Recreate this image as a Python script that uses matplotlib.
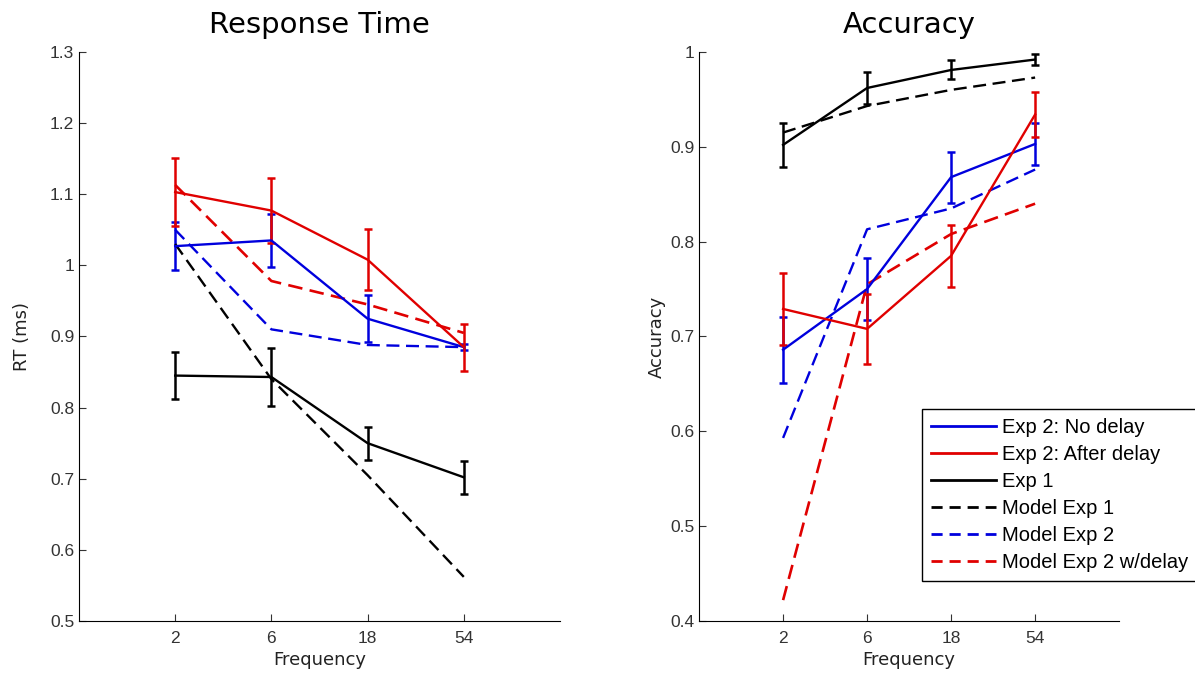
import matplotlib
matplotlib.use("Agg")
import matplotlib.pyplot as plt
from matplotlib.lines import Line2D

plt.rcParams["font.family"] = ["Liberation Sans", "DejaVu Sans"]

freq_labels = ["2", "6", "18", "54"]
xpos = [1, 2, 3, 4]

# response time (left panel)
rt_nodelay = [1.027, 1.035, 0.925, 0.885]
rt_nodelay_err = [0.034, 0.037, 0.033, 0.004]
rt_after = [1.103, 1.077, 1.008, 0.885]
rt_after_err = [0.048, 0.046, 0.043, 0.033]
rt_exp1 = [0.845, 0.843, 0.750, 0.702]
rt_exp1_err = [0.033, 0.041, 0.023, 0.023]
rt_model1 = [1.030, 0.840, 0.705, 0.562]
rt_model2 = [1.050, 0.910, 0.888, 0.885]
rt_model2d = [1.113, 0.978, 0.945, 0.905]

# accuracy (right panel)
acc_nodelay = [0.686, 0.750, 0.868, 0.903]
acc_nodelay_err = [0.035, 0.033, 0.027, 0.022]
acc_after = [0.729, 0.708, 0.785, 0.934]
acc_after_err = [0.038, 0.037, 0.033, 0.024]
acc_exp1 = [0.902, 0.962, 0.981, 0.992]
acc_exp1_err = [0.023, 0.017, 0.010, 0.006]
acc_model1 = [0.915, 0.943, 0.960, 0.973]
acc_model2 = [0.593, 0.813, 0.835, 0.876]
acc_model2d = [0.422, 0.755, 0.808, 0.840]

legend_labels = ["Exp 2: No delay", "Exp 2: After delay", "Exp 1",
                 "Model Exp 1", "Model Exp 2", "Model Exp 2 w/delay"]

BLUE = "#0000dd"
RED = "#e00000"
BLACK = "#000000"
DASH = (5.5, 2.8)
WIDE = ["DejaVu Sans"]

fig = plt.figure(figsize=(11.95, 6.8), dpi=100)
ax1 = fig.add_axes([0.0661, 0.0868, 0.4025, 0.8368])
ax2 = fig.add_axes([0.585, 0.0868, 0.3515, 0.8368])


def panel(ax, nodelay, nd_err, after, af_err, exp1, e1_err, m1, m2, m2d):
    eb = dict(capsize=3, elinewidth=1.8, capthick=1.8)
    ax.errorbar(xpos, nodelay, yerr=nd_err, color=BLUE, lw=1.7, **eb)
    ax.errorbar(xpos, after, yerr=af_err, color=RED, lw=1.7, **eb)
    ax.errorbar(xpos, exp1, yerr=e1_err, color=BLACK, lw=1.7, **eb)
    ax.plot(xpos, m1, color=BLACK, lw=1.7, dashes=DASH)
    ax.plot(xpos, m2, color=BLUE, lw=1.7, dashes=DASH)
    ax.plot(xpos, m2d, color=RED, lw=1.9, dashes=DASH)
    ax.set_xlim(0, 5)
    ax.set_xticks(xpos)
    ax.set_xticklabels(freq_labels)
    ax.set_xlabel("Frequency", fontsize=13, family=WIDE, color="#222222",
                  labelpad=4)
    for side in ("top", "right"):
        ax.spines[side].set_visible(False)
    ax.tick_params(direction="in", length=5, labelsize=12.5, colors="#333333")
    ax.tick_params(axis="x", pad=7)


panel(ax1, rt_nodelay, rt_nodelay_err, rt_after, rt_after_err, rt_exp1,
      rt_exp1_err, rt_model1, rt_model2, rt_model2d)
ax1.set_ylim(0.5, 1.3)
ax1.set_yticks([0.5, 0.6, 0.7, 0.8, 0.9, 1.0, 1.1, 1.2, 1.3])
ax1.set_yticklabels(["0.5", "0.6", "0.7", "0.8", "0.9", "1", "1.1", "1.2", "1.3"])
ax1.set_ylabel("RT (ms)", fontsize=13, family=WIDE, color="#222222")
ax1.yaxis.set_label_coords(-0.100, 0.5)
ax1.set_title("Response Time", fontsize=21, family=WIDE, pad=14)

panel(ax2, acc_nodelay, acc_nodelay_err, acc_after, acc_after_err, acc_exp1,
      acc_exp1_err, acc_model1, acc_model2, acc_model2d)
ax2.set_ylim(0.4, 1.0)
ax2.set_yticks([0.4, 0.5, 0.6, 0.7, 0.8, 0.9, 1.0])
ax2.set_yticklabels(["0.4", "0.5", "0.6", "0.7", "0.8", "0.9", "1"])
ax2.set_ylabel("Accuracy", fontsize=13, family=WIDE, color="#222222")
ax2.yaxis.set_label_coords(-0.079, 0.5)
ax2.set_title("Accuracy", fontsize=21, family=WIDE, pad=14)

handles = [
    Line2D([], [], color=BLUE, lw=2),
    Line2D([], [], color=RED, lw=2),
    Line2D([], [], color=BLACK, lw=2),
    Line2D([], [], color=BLACK, lw=2, dashes=(4, 2.5)),
    Line2D([], [], color=BLUE, lw=2, dashes=(4, 2.5)),
    Line2D([], [], color=RED, lw=2, dashes=(4, 2.5)),
]
leg = ax2.legend(handles, legend_labels, loc="lower left",
                 bbox_to_anchor=(0.531, 0.07), fontsize=14.5,
                 fancybox=False, framealpha=1, edgecolor="black",
                 handlelength=3.2, handletextpad=0.3, labelspacing=0.4,
                 borderpad=0.45, borderaxespad=0)
leg.get_frame().set_linewidth(1.0)

fig.savefig("out.png", dpi=100)
